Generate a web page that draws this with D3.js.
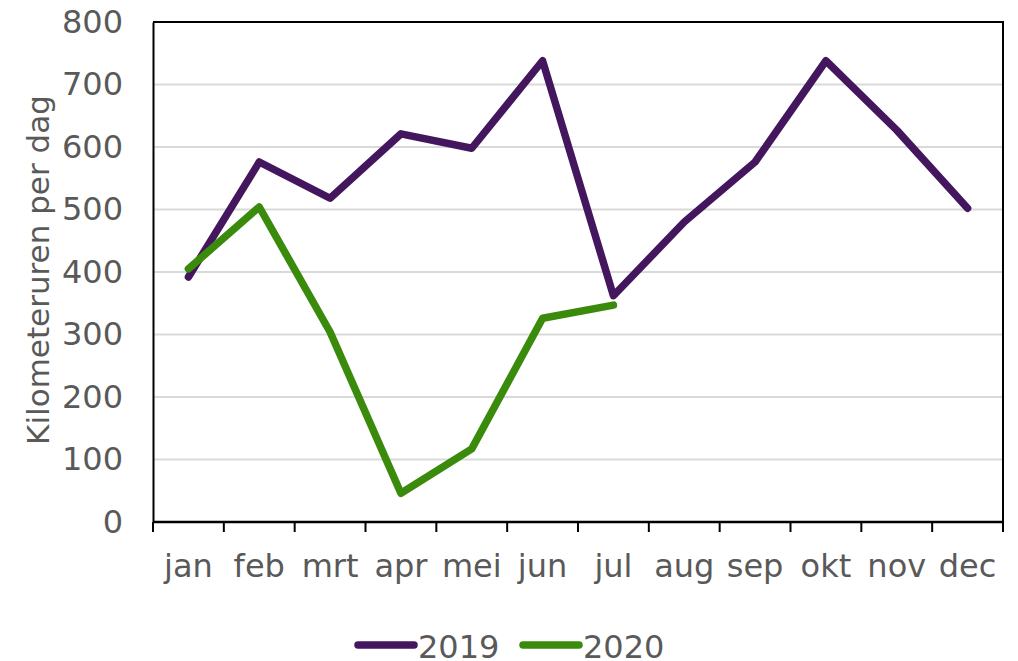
<!DOCTYPE html>
<html lang="en">
  <head>
    <meta charset="utf-8" />
    <script src="https://d3js.org/d3.v7.js"></script>
    <style>
      body { margin: 0; background: #fff; overflow: hidden; }
      svg { display: block; }
      text { font-family: "DejaVu Sans", Verdana, sans-serif; fill: #595959; }
    </style>
  </head>
  <body>
    <script>

    // data
    var months = ["jan", "feb", "mrt", "apr", "mei", "jun", "jul", "aug", "sep", "okt", "nov", "dec"];
    var values2019 = [392, 576, 518, 621, 598, 738, 362, 480, 576, 738, 627, 502];
    var values2020 = [405, 504, 304, 46, 117, 326, 347];
    var yTicks = [0, 100, 200, 300, 400, 500, 600, 700, 800];
    var seriesNames = ["2019", "2020"];
    var seriesColors = ["#43165e", "#3a8a0c"];

    var w = 1018, h = 661;
    var margin = {top: 22, right: 15, bottom: 139, left: 153};
    var innerWidth = w - margin.left - margin.right;
    var innerHeight = h - margin.top - margin.bottom;

    var svg = d3.select("body")
      .append("svg")
        .attr("width", w)
        .attr("height", h)
      .append("g")
        .attr("transform", `translate(${margin.left},${margin.top})`);

    var x = d3.scaleBand()
      .domain(months)
      .range([0, innerWidth]);

    var y = d3.scaleLinear()
      .domain([0, 800])
      .range([innerHeight, 0]);

    // gridlines
    svg.selectAll(".grid")
      .data(yTicks.filter(d => d > 0))
      .join("line")
        .attr("x1", 0)
        .attr("x2", innerWidth)
        .attr("y1", d => y(d))
        .attr("y2", d => y(d))
        .attr("stroke", "#d9d9d9")
        .attr("stroke-width", 2);

    // box: top and right
    svg.append("path")
      .attr("d", `M0,0H${innerWidth}V${innerHeight}`)
      .attr("fill", "none")
      .attr("stroke", "#000")
      .attr("stroke-width", 2);

    // y axis
    var yAxis = svg.append("g")
      .call(d3.axisLeft(y).tickValues(yTicks).tickSize(0).tickPadding(30));
    yAxis.select(".domain").attr("stroke", "#000").attr("stroke-width", 2);
    yAxis.selectAll("text").style("font-size", "32px").attr("fill", "#595959");

    // x axis with ticks at band boundaries
    var xAxis = svg.append("g")
      .attr("transform", `translate(0,${innerHeight})`);
    xAxis.append("line")
      .attr("x1", 0).attr("x2", innerWidth)
      .attr("stroke", "#000").attr("stroke-width", 2.5);
    var bounds = months.map(m => x(m)).concat([innerWidth]);
    xAxis.selectAll(".tick")
      .data(bounds)
      .join("line")
        .attr("x1", d => d).attr("x2", d => d)
        .attr("y1", 0).attr("y2", 10)
        .attr("stroke", "#000").attr("stroke-width", 2);
    xAxis.selectAll(".lbl")
      .data(months)
      .join("text")
        .attr("x", d => x(d) + x.bandwidth() / 2)
        .attr("y", 55)
        .attr("text-anchor", "middle")
        .style("font-size", "32px")
        .text(d => d);

    // y label
    svg.append("text")
      .attr("transform", `translate(${38 - margin.left},${innerHeight / 2 - 2}) rotate(-90)`)
      .attr("text-anchor", "middle")
      .attr("dy", "0.35em")
      .style("font-size", "31px")
      .text("Kilometeruren per dag");

    // lines
    var line = d3.line()
      .x((d, i) => x(months[i]) + x.bandwidth() / 2)
      .y(d => y(d));

    [values2019, values2020].forEach(function(vals, i) {
      svg.append("path")
        .datum(vals)
        .attr("d", line)
        .attr("fill", "none")
        .attr("stroke", seriesColors[i])
        .attr("stroke-width", 7.5)
        .attr("stroke-linecap", "round")
        .attr("stroke-linejoin", "round");
    });

    // legend
    var legend = d3.select("svg").append("g");
    var legendX = [358, 523];
    seriesNames.forEach(function(name, i) {
      legend.append("line")
        .attr("x1", legendX[i]).attr("x2", legendX[i] + 56)
        .attr("y1", 645).attr("y2", 645)
        .attr("stroke", seriesColors[i])
        .attr("stroke-width", 7.5)
        .attr("stroke-linecap", "round");
      legend.append("text")
        .attr("x", legendX[i] + 60)
        .attr("y", 646)
        .attr("dy", "0.36em")
        .style("font-size", "32px")
        .text(name);
    });

    </script>
  </body>
</html>
